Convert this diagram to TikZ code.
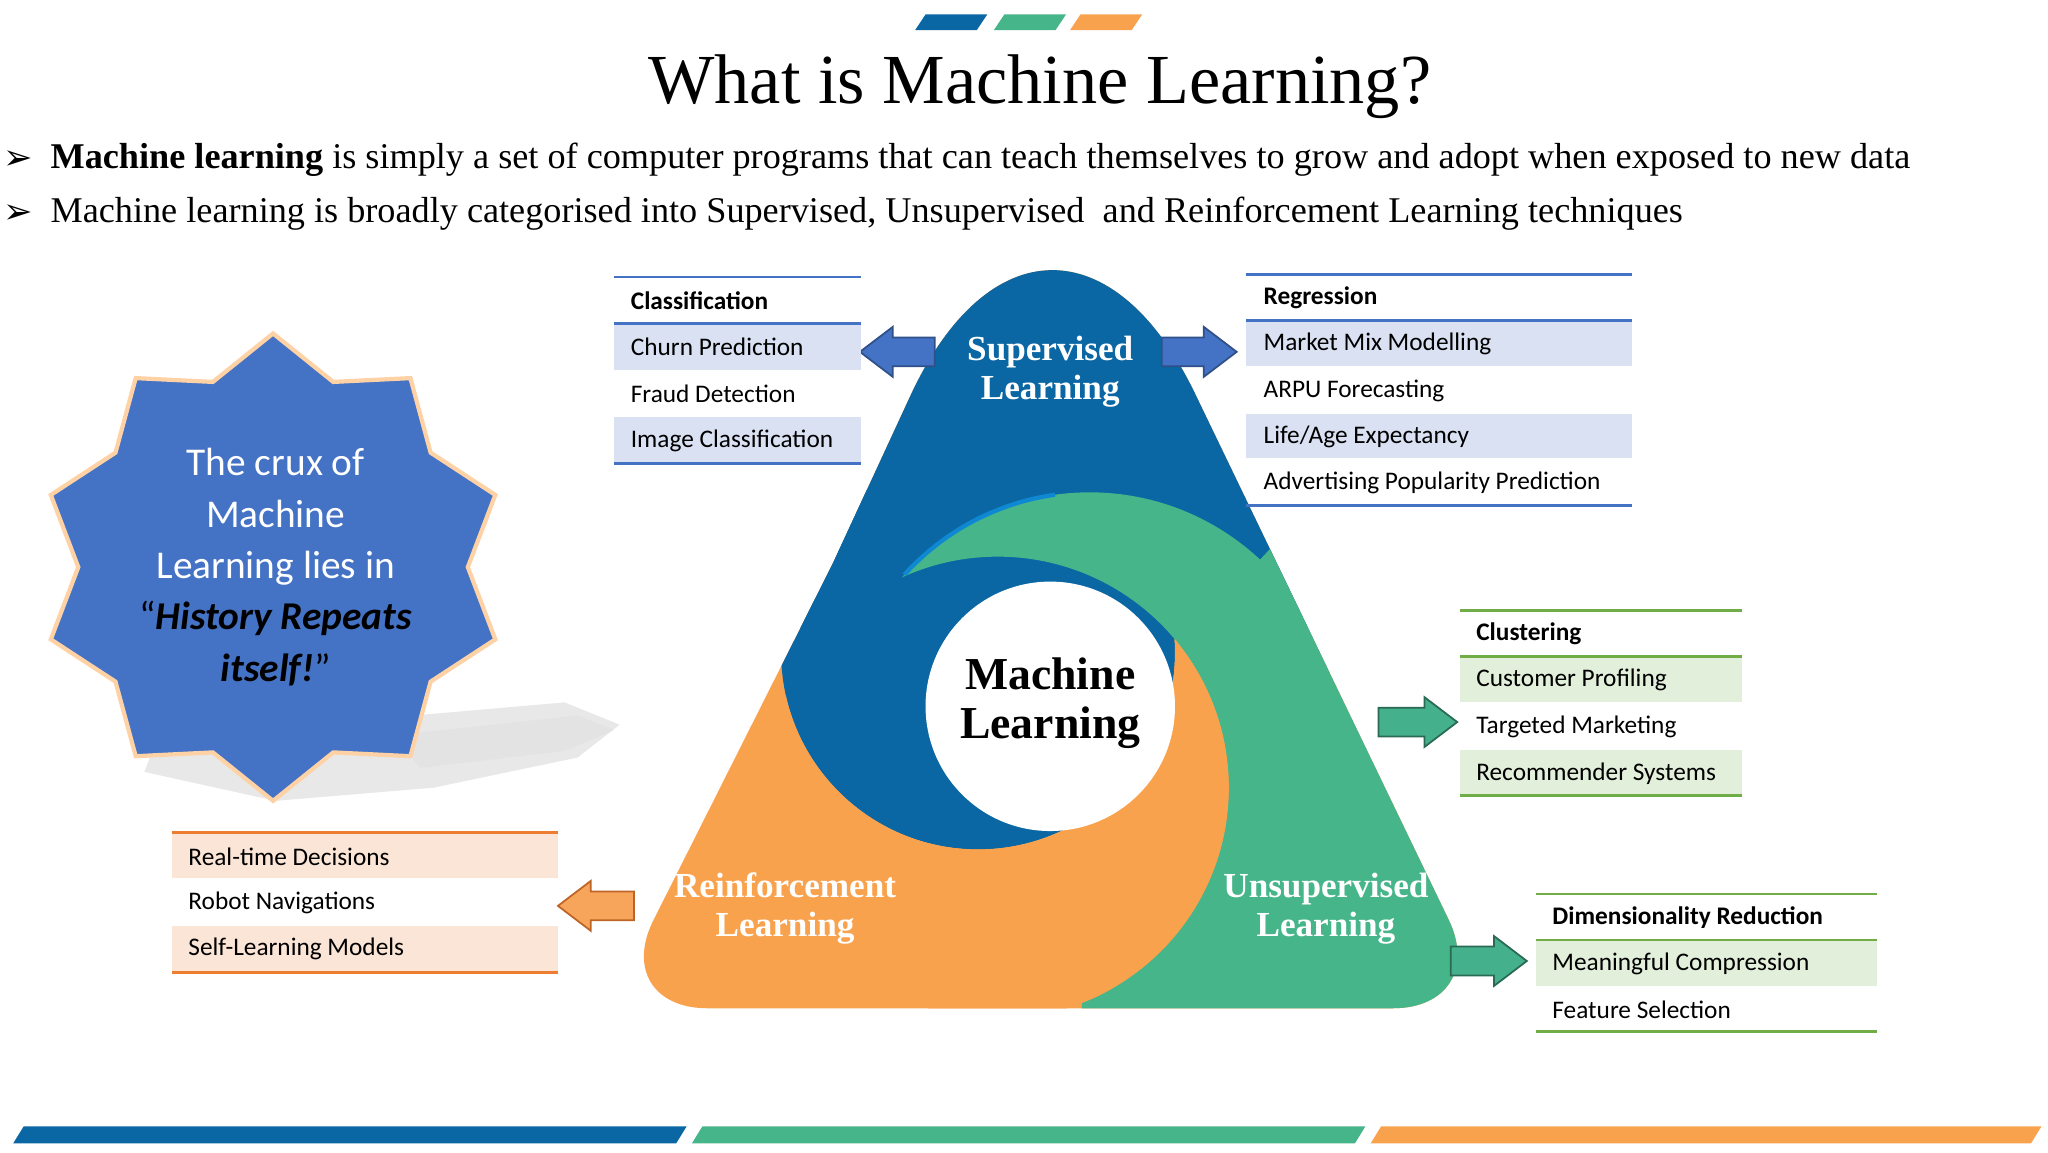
\documentclass[tikz,border=0pt]{standalone}
\usepackage{fontspec}
\setmainfont{Liberation Serif}
\newfontfamily\calib{Carlito}
\newfontfamily\dejav{DejaVu Sans}
\usetikzlibrary{shapes.geometric}
\definecolor{tblue}{HTML}{0A67A3}
\definecolor{tgreen}{HTML}{47B58A}
\definecolor{torange}{HTML}{F9A24E}
\definecolor{lblue}{HTML}{4472C4}
\definecolor{sblue}{HTML}{D9E1F2}
\definecolor{lgreen}{HTML}{70AD47}
\definecolor{sgreen}{HTML}{E2EFDA}
\definecolor{lorange}{HTML}{ED7D31}
\definecolor{sorange}{HTML}{FBE5D6}
\definecolor{agreen}{HTML}{45B08C}
\definecolor{aorange}{HTML}{F7A55A}
\begin{document}
\begin{tikzpicture}[x=0.013128cm,y=-0.013128cm,
  cell/.style={anchor=west,inner sep=0pt,font=\calib\fontsize{7.2pt}{8pt}\selectfont},
  hcell/.style={cell,font=\calib\bfseries\fontsize{7.2pt}{8pt}\selectfont},
  tlabel/.style={text=white,font=\bfseries\fontsize{10pt}{11pt}\selectfont,align=center},
  barrow/.style={fill=lblue,draw=lblue!70!black,line width=0.5pt},
  garrow/.style={fill=agreen,draw=agreen!60!black,line width=0.5pt},
  oarrow/.style={fill=aorange,draw=lorange!80!black,line width=0.5pt}]
\useasboundingbox (0,0) rectangle (1560,877.5);
\fill[white] (0,0) rectangle (1560,877.5);
% top bars
\fill[tblue] (705,11)--(752,11)--(744,23)--(697,23)--cycle;
\fill[tgreen] (765,11)--(812,11)--(804,23)--(757,23)--cycle;
\fill[torange] (823,11)--(870,11)--(862,23)--(815,23)--cycle;
% bottom bars
\fill[tblue] (18,858)--(523,858)--(515,871)--(10,871)--cycle;
\fill[tgreen] (535,858)--(1040,858)--(1032,871)--(527,871)--cycle;
\fill[torange] (1052,858)--(1555,858)--(1547,871)--(1044,871)--cycle;
% title and bullets
\node (title) at (792,66) {\fontsize{20pt}{24pt}\selectfont What is Machine Learning?};
\node[anchor=west,inner sep=0pt] (b1m) at (2,122) {\dejav\fontsize{10pt}{11pt}\selectfont ➢};
\node[anchor=west,inner sep=0pt] (b1) at (38,122) {\fontsize{10.3pt}{12pt}\selectfont\textbf{Machine learning} is simply a set of computer programs that can teach themselves to grow and adopt when exposed to new data};
\node[anchor=west,inner sep=0pt] (b2m) at (2,163) {\dejav\fontsize{10pt}{11pt}\selectfont ➢};
\node[anchor=west,inner sep=0pt] (b2) at (38,163) {\fontsize{10.3pt}{12pt}\selectfont Machine learning is broadly categorised into Supervised, Unsupervised\ \ and Reinforcement Learning techniques};
% star shadow
\fill[gray!30,opacity=0.6] (120,562)--(430,535)--(472,552)--(440,577)--(330,600)--(210,610)--(110,588)--cycle;
\fill[gray!25,opacity=0.5] (300,560)--(440,545)--(468,556)--(430,572)--(320,585)--cycle;
% star
\node[star,star points=10,star point ratio=1.2,minimum size=356*0.013128cm,fill=lblue,draw=orange!35,line width=1.2pt,inner sep=0pt] (star) at (208,432) {};
\node[align=center,font=\calib\fontsize{11.2pt}{14.6pt}\selectfont] (startext) at (210,432) {\textcolor{white}{The crux of}\\\textcolor{white}{Machine}\\\textcolor{white}{Learning lies in}\\“\textbf{\textit{History Repeats}}\\\textbf{\textit{itself!}}”};
% triangle
\def\tri{(634,430) [rounded corners=95pt]--(800,71) [rounded corners=28pt]--(1136,768)--(464,768) [rounded corners=0pt]--cycle}
\begin{scope}
\clip \tri;
\fill[torange] (400,0) rectangle (1200,800);
\fill[tblue] (400,0) rectangle (1200,478);
\fill[tblue] (745,497) circle (150);
\begin{scope}[even odd rule]
\clip (300,0) rectangle (1300,900) (760,600) circle (176);
\fill[tgreen] (830,565) circle (190);
\fill[tgreen] (830,565)--(975,410)--(1300,410)--(1300,900)--(820,900)--cycle;
\draw[cyan!70!blue,line width=1.2pt] (830,565) ++(222:190) arc (222:262:190);
\end{scope}
\begin{scope}[even odd rule]
\clip (300,0) rectangle (1300,900) (745,497) circle (150);
\fill[torange] (760,600) circle (176);
\end{scope}
\end{scope}
\fill[white] (800,538) circle (95);
\node (ml) at (800,535) {\fontsize{13pt}{16pt}\selectfont\bfseries\begin{tabular}{c}Machine\\[-2pt]Learning\end{tabular}};
\node[tlabel] (sup) at (800,283) {Supervised\\Learning};
\node[tlabel] (rein) at (598,692) {Reinforcement\\Learning};
\node[tlabel] (uns) at (1010,692) {Unsupervised\\Learning};
% arrows
\draw[barrow] (712,257)--(680,257)--(680,249)--(655,268)--(680,287)--(680,279)--(712,279)--cycle;
\draw[barrow] (885,257)--(917,257)--(917,249)--(942,268)--(917,287)--(917,279)--(885,279)--cycle;
\draw[garrow] (1050,539)--(1085,539)--(1085,531)--(1110,550)--(1085,569)--(1085,561)--(1050,561)--cycle;
\draw[garrow] (1105,721)--(1138,721)--(1138,713)--(1163,732)--(1138,751)--(1138,743)--(1105,743)--cycle;
\draw[oarrow] (483,679)--(450,679)--(450,671)--(425,690)--(450,709)--(450,701)--(483,701)--cycle;
% Classification table
\fill[sblue] (468,247) rectangle (656,282);
\fill[sblue] (468,318) rectangle (656,352);
\draw[lblue,line width=0.8pt] (468,211)--(656,211) (468,246.5)--(656,246.5) (468,353)--(656,353);
\node[hcell] (c0) at (480,229) {Classification};
\node[cell] (c1) at (480,264.5) {Churn Prediction};
\node[cell] (c2) at (480,300) {Fraud Detection};
\node[cell] (c3) at (480,335.5) {Image Classification};
% Regression table
\fill[sblue] (949,245) rectangle (1243,279);
\fill[sblue] (949,315) rectangle (1243,349);
\draw[lblue,line width=0.8pt] (949,209)--(1243,209) (949,244)--(1243,244) (949,385)--(1243,385);
\node[hcell] (r0) at (962,227) {Regression};
\node[cell] (r1) at (962,262) {Market Mix Modelling};
\node[cell] (r2) at (962,297.5) {ARPU Forecasting};
\node[cell] (r3) at (962,333) {Life/Age Expectancy};
\node[cell] (r4) at (962,368) {Advertising Popularity Prediction};
% Clustering table
\fill[sgreen] (1112,501) rectangle (1327,535);
\fill[sgreen] (1112,571) rectangle (1327,605);
\draw[lgreen,line width=0.8pt] (1112,465)--(1327,465) (1112,500)--(1327,500) (1112,606)--(1327,606);
\node[hcell] (k0) at (1124,483) {Clustering};
\node[cell] (k1) at (1124,518) {Customer Profiling};
\node[cell] (k2) at (1124,553.5) {Targeted Marketing};
\node[cell] (k3) at (1124,589) {Recommender Systems};
% Dimensionality table
\fill[sgreen] (1170,717) rectangle (1430,751);
\draw[lgreen,line width=0.8pt] (1170,681)--(1430,681) (1170,716)--(1430,716) (1170,786)--(1430,786);
\node[hcell] (d0) at (1182,699) {Dimensionality Reduction};
\node[cell] (d1) at (1182,734) {Meaningful Compression};
\node[cell] (d2) at (1182,769) {Feature Selection};
% Reinforcement table
\fill[sorange] (131,635) rectangle (425,669);
\fill[sorange] (131,705) rectangle (425,740);
\draw[lorange,line width=0.8pt] (131,634)--(425,634) (131,741)--(425,741);
\node[cell] (o1) at (143,652.5) {Real-time Decisions};
\node[cell] (o2) at (143,688) {Robot Navigations};
\node[cell] (o3) at (143,723) {Self-Learning Models};
\end{tikzpicture}
\end{document}
